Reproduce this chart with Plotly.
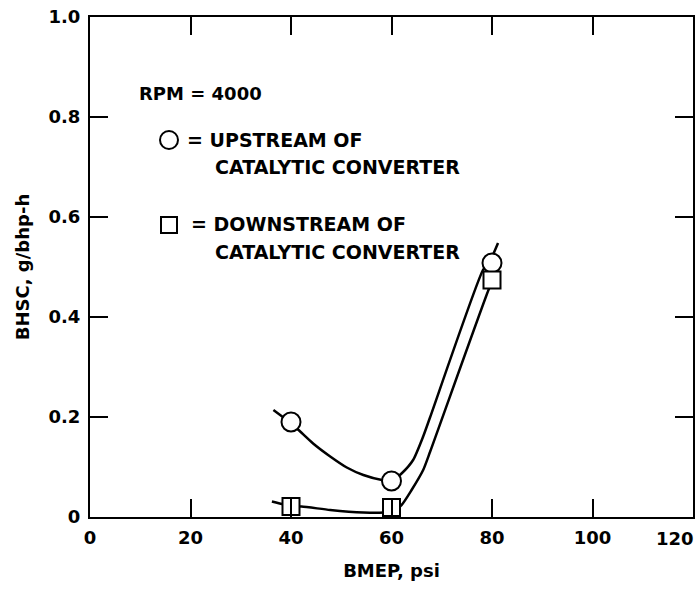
import plotly.graph_objects as go

# ---- data ----
bmep_points = [40, 60, 80]
upstream_bhsc = [0.19, 0.072, 0.508]
downstream_bhsc = [0.021, 0.019, 0.474]

# hand-drawn fitted curves
up_curve_x = [36.5, 39.8, 41.5, 44.4, 47.8, 51.1, 54.4, 58.1, 60.0, 62.0, 64.3, 66.3, 67.7, 78.2, 79.6, 81.2]
up_curve_y = [0.214, 0.189, 0.174, 0.147, 0.121, 0.099, 0.084, 0.074, 0.072, 0.087, 0.114, 0.161, 0.200, 0.494, 0.512, 0.548]
dn_curve_x = [36.2, 40.3, 42.1, 47.8, 54.4, 58.4, 60.2, 62.0, 64.0, 66.3, 67.7, 79.3, 80.2]
dn_curve_y = [0.031, 0.021, 0.021, 0.014, 0.009, 0.009, 0.012, 0.024, 0.054, 0.094, 0.131, 0.454, 0.474]

x_ticks = [0, 20, 40, 60, 80, 100, 120]
x_tick_labels = ["0", "20", "40", "60", "80", "100", ""]
x_last_label = "120"
y_ticks = [0, 0.2, 0.4, 0.6, 0.8, 1.0]
y_tick_labels = ["0", "0.2", "0.4", "0.6", "0.8", "1.0"]

FONT = "DejaVu Sans"
W, H = 697, 590
L, R, T, B = 90, 4, 17, 73
PW, PH = W - L - R, H - T - B

def px(xpix):
    return (xpix - L) / PW

def py(ypix):
    return (H - B - ypix) / PH

fig = go.Figure()
fig.add_trace(go.Scatter(x=up_curve_x, y=up_curve_y, mode="lines",
                         line=dict(color="black", width=2.5, shape="spline", smoothing=0.6),
                         showlegend=False, hoverinfo="skip"))
fig.add_trace(go.Scatter(x=dn_curve_x, y=dn_curve_y, mode="lines",
                         line=dict(color="black", width=2.5, shape="spline", smoothing=0.6),
                         showlegend=False, hoverinfo="skip"))
fig.add_trace(go.Scatter(x=bmep_points, y=upstream_bhsc, mode="markers",
                         marker=dict(symbol="circle", size=19, color="white",
                                     line=dict(color="black", width=2)),
                         name="UPSTREAM OF CATALYTIC CONVERTER", showlegend=False, cliponaxis=False))
fig.add_trace(go.Scatter(x=bmep_points, y=downstream_bhsc, mode="markers",
                         marker=dict(symbol="square", size=17, color="white",
                                     line=dict(color="black", width=2)),
                         name="DOWNSTREAM OF CATALYTIC CONVERTER", showlegend=False, cliponaxis=False))

tickfont = dict(family=FONT, size=18, color="black", weight="bold")
titlefont = dict(family=FONT, size=18, color="black", weight="bold")
axis_common = dict(showline=True, linecolor="black", linewidth=2, mirror="ticks",
                   ticks="inside", ticklen=18, tickwidth=2, tickcolor="black",
                   showgrid=False, zeroline=False, automargin=False, tickfont=tickfont)

fig.update_xaxes(range=[0, 120], tickvals=x_ticks, ticktext=x_tick_labels,
                 ticklabelstandoff=3,
                 title=dict(text="BMEP, psi", font=titlefont, standoff=18),
                 **axis_common)
fig.update_yaxes(range=[0, 1], tickvals=y_ticks, ticktext=y_tick_labels,
                 ticklabelstandoff=4,
                 title=dict(text="BHSC, g/bhp-h", font=titlefont, standoff=14),
                 **axis_common)

fig.add_annotation(text=x_last_label, x=px(696), y=py(538), xref="paper", yref="paper",
                   xanchor="right", yanchor="middle", showarrow=False, font=tickfont)

txt = dict(family=FONT, size=19, color="black", weight="bold")
ann = [
    ("RPM = 4000", 137, 93),
    ("= UPSTREAM OF", 185, 140),
    ("CATALYTIC CONVERTER", 213, 167),
    ("= DOWNSTREAM OF", 189, 224),
    ("CATALYTIC CONVERTER", 213, 252),
]
for t, x, y in ann:
    fig.add_annotation(text=t, x=px(x), y=py(y), xref="paper", yref="paper",
                       xanchor="left", yanchor="middle", showarrow=False,
                       font=dict(txt, size=18) if t.startswith("RPM") else txt)

# legend symbols
fig.add_shape(type="circle", xref="paper", yref="paper",
              x0=px(160), x1=px(178), y0=py(149), y1=py(131),
              line=dict(color="black", width=2), fillcolor="white")
fig.add_shape(type="rect", xref="paper", yref="paper",
              x0=px(161), x1=px(177), y0=py(233), y1=py(217),
              line=dict(color="black", width=2), fillcolor="white")

fig.update_layout(width=W, height=H, margin=dict(l=L, r=R, t=T, b=B),
                  plot_bgcolor="white", paper_bgcolor="white",
                  font=dict(family=FONT, color="black"))

fig.write_html("out.html", config={"displayModeBar": False},
               post_script="document.body.style.margin='0';document.body.style.overflow='hidden';")
